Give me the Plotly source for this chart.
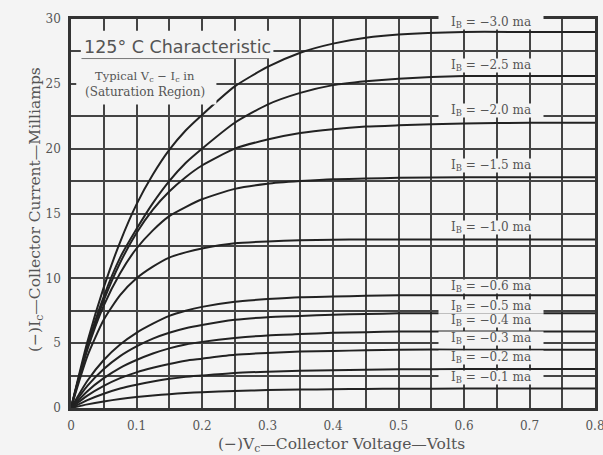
import plotly.graph_objects as go

# Collector voltage sample points (volts)
vc = [0, 0.025, 0.05, 0.075, 0.1, 0.125, 0.15, 0.175, 0.2, 0.25, 0.3, 0.35, 0.4, 0.45, 0.5, 0.6, 0.7, 0.8]

# Collector current (mA) for each base current
ib_3_0 = [0, 5.1, 9.3, 12.8, 15.7, 18.0, 19.9, 21.4, 22.6, 24.8, 26.3, 27.4, 28.1, 28.55, 28.8, 29.0, 29.0, 29.0]
ib_2_5 = [0, 4.8, 8.6, 11.6, 13.8, 15.8, 17.5, 18.9, 20.0, 22.0, 23.4, 24.3, 24.9, 25.2, 25.4, 25.6, 25.6, 25.6]
ib_2_0 = [0, 4.7, 8.3, 11.2, 13.5, 15.3, 16.7, 17.8, 18.7, 20.0, 20.7, 21.2, 21.5, 21.7, 21.8, 21.95, 22.0, 22.0]
ib_1_5 = [0, 4.5, 7.9, 10.4, 12.3, 13.7, 14.8, 15.5, 16.1, 16.9, 17.3, 17.5, 17.65, 17.7, 17.75, 17.8, 17.8, 17.8]
ib_1_0 = [0, 4.0, 6.8, 8.7, 10.0, 10.9, 11.6, 12.0, 12.3, 12.7, 12.85, 12.93, 12.97, 13.0, 13.0, 13.0, 13.0, 13.0]
ib_0_6 = [0, 2.1, 3.7, 4.9, 5.8, 6.5, 7.1, 7.5, 7.8, 8.2, 8.4, 8.55, 8.6, 8.65, 8.7, 8.7, 8.7, 8.7]
ib_0_5 = [0, 1.7, 3.0, 4.0, 4.75, 5.35, 5.8, 6.15, 6.4, 6.8, 7.0, 7.1, 7.2, 7.25, 7.3, 7.3, 7.3, 7.3]
ib_0_4 = [0, 1.3, 2.3, 3.1, 3.7, 4.2, 4.6, 4.9, 5.1, 5.4, 5.6, 5.7, 5.8, 5.85, 5.9, 5.9, 5.9, 5.9]
ib_0_3 = [0, 0.95, 1.7, 2.3, 2.75, 3.1, 3.4, 3.65, 3.8, 4.1, 4.25, 4.35, 4.4, 4.45, 4.5, 4.5, 4.5, 4.5]
ib_0_2 = [0, 0.61, 1.1, 1.5, 1.8, 2.05, 2.25, 2.4, 2.5, 2.7, 2.8, 2.87, 2.92, 2.95, 2.98, 3.0, 3.0, 3.0]
ib_0_1 = [0, 0.28, 0.51, 0.70, 0.85, 0.97, 1.07, 1.15, 1.22, 1.31, 1.38, 1.42, 1.45, 1.47, 1.48, 1.5, 1.5, 1.5]

series = [ib_3_0, ib_2_5, ib_2_0, ib_1_5, ib_1_0, ib_0_6, ib_0_5, ib_0_4, ib_0_3, ib_0_2, ib_0_1]
labels = ["−3.0", "−2.5", "−2.0", "−1.5", "−1.0", "−0.6", "−0.5", "−0.4", "−0.3", "−0.2", "−0.1"]
label_y = [29.7, 26.4, 22.95, 18.7, 13.9, 9.37, 7.83, 6.73, 5.35, 3.86, 2.37]

x_ticks = [0, 0.1, 0.2, 0.3, 0.4, 0.5, 0.6, 0.7, 0.8]
x_ticktext = ["0", "0.1", "0.2", "0.3", "0.4", "0.5", "0.6", "0.7", "0.8"]
y_ticks = [0, 5, 10, 15, 20, 25, 30]

BG = "#f4f4f4"
GRID = "#444444"
TXT = "#555555"
SERIF = "DejaVu Serif, Liberation Serif, serif"

fig = go.Figure()
for s, lab in zip(series, labels):
    fig.add_trace(go.Scatter(x=vc, y=s, mode="lines", name=lab,
                             line=dict(color="#222222", width=2, shape="spline", smoothing=0.6),
                             showlegend=False, hoverinfo="skip"))

annotations = []
for lab, ly in zip(labels, label_y):
    annotations.append(dict(x=0.641, y=ly, xref="x", yref="y",
                            text=f"I<sub>B</sub> = {lab} ma", showarrow=False,
                            font=dict(family=SERIF, size=12, color=TXT),
                            bgcolor=BG, width=104, height=13, borderpad=0))

annotations += [
    dict(x=0.1625, y=(408.5 - 47) / 13, xref="x", yref="y", text="125° C Characteristic",
         showarrow=False, font=dict(family="DejaVu Sans, sans-serif", size=17.5, color=TXT)),
    dict(x=0.113, y=(408.5 - 76) / 13, xref="x", yref="y", text="Typical V<sub>c</sub> − I<sub>c</sub> in",
         showarrow=False, font=dict(family=SERIF, size=11.5, color=TXT)),
    dict(x=0.113, y=(408.5 - 92) / 13, xref="x", yref="y", text="(Saturation Region)",
         showarrow=False, font=dict(family=SERIF, size=12, color=TXT)),
    dict(x=0.516, y=-0.094, xref="paper", yref="paper", text="(−)V<sub>c</sub>—Collector Voltage—Volts",
         showarrow=False, font=dict(family=SERIF, size=15.5, color=TXT), yanchor="middle"),
    dict(x=-0.091, y=0.51, xref="paper", yref="paper", text="(−)I<sub>c</sub>—Collector Current—Milliamps",
         showarrow=False, textangle=-90, font=dict(family=SERIF, size=15.5, color=TXT)),
]

shapes = [
    dict(type="rect", xref="x", yref="y", x0=0.015, x1=0.309, y0=26.95, y1=29.1,
         fillcolor=BG, line=dict(width=0), layer="above"),
    dict(type="rect", xref="x", yref="y", x0=0.008, x1=0.222, y0=23.4, y1=26.95,
         fillcolor=BG, line=dict(width=0), layer="above"),
    dict(type="line", xref="x", yref="y", x0=0.016, x1=0.302, y0=26.95, y1=26.95,
         line=dict(color="#777777", width=1), layer="above"),
]

fig.update_layout(
    width=613, height=455, autosize=False,
    margin=dict(l=71, r=8.5, t=18.5, b=46.5),
    paper_bgcolor=BG, plot_bgcolor=BG,
    annotations=annotations, shapes=shapes,
    xaxis=dict(range=[0, 0.8], tickvals=x_ticks, ticktext=x_ticktext,
               showgrid=True, gridcolor=GRID, gridwidth=1.6,
               minor=dict(dtick=0.05, showgrid=True, gridcolor=GRID, gridwidth=1.6),
               showline=True, linecolor="#333333", linewidth=2.5, mirror=True,
               zeroline=False, ticks="", ticklabelstandoff=5,
               tickfont=dict(family=SERIF, size=12, color="#555555")),
    yaxis=dict(range=[0, 30], tickvals=y_ticks,
               showgrid=True, gridcolor=GRID, gridwidth=1.6,
               minor=dict(dtick=2.5, showgrid=True, gridcolor=GRID, gridwidth=1.6),
               showline=True, linecolor="#333333", linewidth=2.5, mirror=True,
               zeroline=False, ticks="", ticklabelstandoff=5,
               tickfont=dict(family=SERIF, size=12, color="#555555")),
)

fig.write_html("out.html",
               config={"displayModeBar": False, "responsive": False},
               post_script="document.body.style.margin='0px';document.body.style.overflow='hidden';")
